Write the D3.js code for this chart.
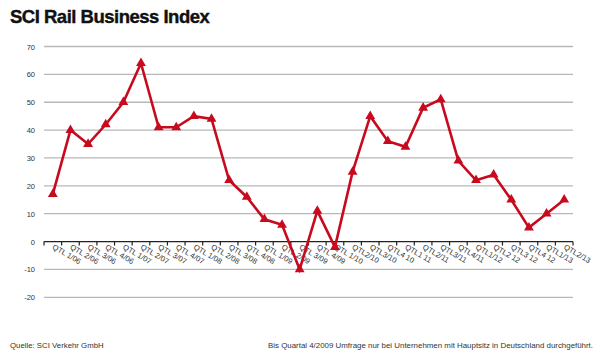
<!DOCTYPE html>
<html><head><meta charset="utf-8">
<script src="https://cdn.jsdelivr.net/npm/d3@7"></script>
<style>
html,body{margin:0;padding:0;background:#fff;}
svg{display:block;}
</style></head>
<body>
<script>
const categories = ["QTL 1/06","QTL 2/06","QTL 3/06","QTL 4/06","QTL 1/07","QTL 2/07","QTL 3/07","QTL 4/07",
  "QTL 1/08","QTL 2/08","QTL 3/08","QTL 4/08","QTL 1/09","QTL 2/09","QTL 3/09","QTL 4/09",
  "QTL 1/10","QTL2/10","QTL3/10","QTL4 10","QTL1 11","QTL2/11","QTL3/11","QTL4/11",
  "QTL1/12","QTL2 12","QTL3 12","QTL4 12","QTL1/13","QTL2/13"];
const values = [17,40,35,42,50,64,41,41,45,44,22,16,8,6,-10,11,-2,25,45,36,34,48,51,29,22,24,15,5,10,15];
const yTicks = [-20,-10,0,10,20,30,40,50,60,70];
const title = "SCI Rail Business Index";
const source = "Quelle: SCI Verkehr GmbH";
const note = "Bis Quartal 4/2009 Umfrage nur bei Unternehmen mit Hauptsitz in Deutschland durchgeführt.";

const W = 600, H = 356;
const svg = d3.select("body").append("svg").attr("width", W).attr("height", H);

const x = d3.scaleBand().domain(categories).range([44, 573]).padding(0);
const y = d3.scaleLinear().domain([-20, 70]).range([297.3, 46.5]);

svg.append("text").attr("x", 10).attr("y", 23)
  .attr("font-family", "Liberation Sans, Arial, sans-serif").attr("font-weight", "bold")
  .attr("font-size", 18.5).attr("letter-spacing", -0.5).attr("fill", "#111")
  .attr("stroke", "#111").attr("stroke-width", 0.4).text(title);

// gridlines
svg.append("g").selectAll("line").data(yTicks.filter(d => d !== 0)).join("line")
  .attr("x1", 44).attr("x2", 573)
  .attr("y1", d => y(d)).attr("y2", d => y(d))
  .attr("stroke", "#b8b8b8").attr("stroke-width", 1.3);

// y labels
svg.append("g").selectAll("text").data(yTicks).join("text")
  .attr("x", 35).attr("y", d => y(d) + 3)
  .attr("text-anchor", "end")
  .attr("font-family", "Liberation Sans, Arial, sans-serif").attr("font-size", 7.5)
  .attr("fill", "#333").text(d => d);

// zero axis with ticks at band edges
const axisG = svg.append("g").attr("transform", `translate(0,${y(0)})`);
axisG.append("line").attr("x1", 44).attr("x2", 573).attr("stroke", "#222").attr("stroke-width", 1.3);
const edges = categories.map(c => x(c)).concat([x.range()[1]]);
axisG.selectAll("line.tk").data(edges).join("line").attr("class", "tk")
  .attr("x1", d => d).attr("x2", d => d).attr("y1", 0).attr("y2", 4)
  .attr("stroke", "#222").attr("stroke-width", 1.2);

// x labels
svg.append("g").selectAll("text").data(categories).join("text")
  .attr("transform", c => `translate(${x(c) + x.bandwidth()/2 - 1},${y(0) + 7}) rotate(30)`)
  .attr("font-family", "Liberation Sans, Arial, sans-serif").attr("font-size", 7.6)
  .attr("fill", "#333").text(c => c);

// line
const cx = (d, i) => x(categories[i]) + x.bandwidth()/2;
const line = d3.line().x(cx).y(d => y(d));
svg.append("path").datum(values).attr("d", line)
  .attr("fill", "none").attr("stroke", "#c80a1e").attr("stroke-width", 2.6).attr("stroke-linejoin", "miter");

const tri = d3.symbol().type(d3.symbolTriangle).size(42);
svg.append("g").selectAll("path").data(values).join("path")
  .attr("transform", (d, i) => `translate(${cx(d, i)},${y(d)})`)
  .attr("d", tri).attr("fill", "#c80a1e");

svg.append("text").attr("x", 10).attr("y", 348)
  .attr("font-family", "Liberation Sans, Arial, sans-serif").attr("font-size", 7.8)
  .attr("fill", "#333").text(source);
svg.append("text").attr("x", 593).attr("y", 348).attr("text-anchor", "end")
  .attr("font-family", "Liberation Sans, Arial, sans-serif").attr("font-size", 7.9)
  .attr("fill", "#333").text(note);
</script>
</body></html>
